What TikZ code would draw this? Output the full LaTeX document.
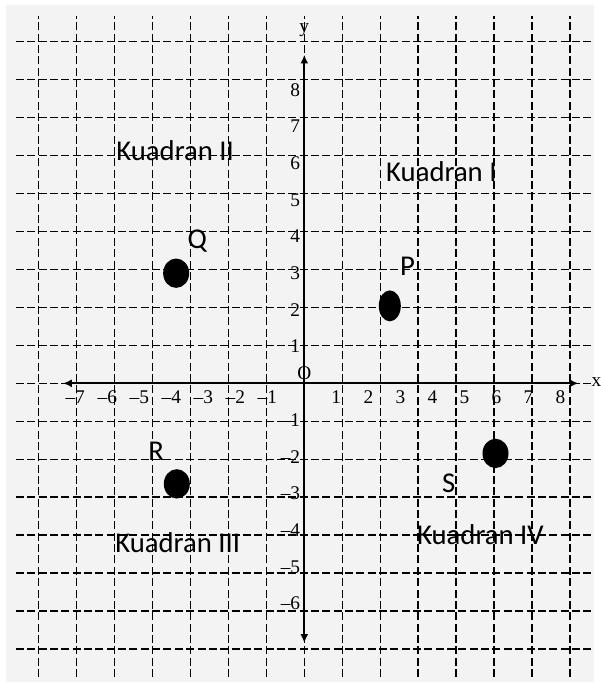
\documentclass[tikz,border=0pt]{standalone}
\usepackage{fontspec}
\setmainfont{Carlito}
\newfontfamily\numfont{Liberation Serif}
\usetikzlibrary{arrows.meta}
\definecolor{paper}{HTML}{F3F3F3}
\tikzset{
  gridline/.style = {dash pattern=on 6pt off 2.5pt, line width=1.1pt},
  sumbu/.style = {line width=1.75pt, {Latex[length=6.5pt,width=6pt]}-{Latex[length=6.5pt,width=6pt]}},
  angka/.style = {font=\numfont\fontsize{14.5}{16}\selectfont, inner sep=0},
  teks/.style = {font=\fontsize{21.5}{24}\selectfont, inner sep=0},
  titik/.style = {fill=black}
}

\begin{document}
\begin{tikzpicture}[x=24pt, y=27.5pt]
    \useasboundingbox (-9.5,-8.193) rectangle (9.25,10.444);
    \fill[paper] (-9.31,-8.14) rectangle (9.06,10.31);
    \draw[gridline] (-9,-8) grid (9,10);
    % axes
    \coordinate (xmin) at (-7.53,0);
    \coordinate (xmax) at (8.56,0);
    \coordinate (ymin) at (0,-7.07);
    \coordinate (ymax) at (0,8.95);
    \draw[sumbu] (xmin) -- (xmax);
    \draw[sumbu] (ymin) -- (ymax);
    \node[angka] (xlbl) at (9.12,0.04) {x};
    \node[angka] (ylbl) at (0,9.63) {y};
    \node[angka] (olbl) at (0,0.28) {O};
    \foreach \i in {-7,...,-1,1,2,...,8} {
        \pgfmathtruncatemacro\a{abs(\i)}
        \node[angka] (x\i) at (\i,-0.37) {\ifnum\i<0 \llap{–}\fi\a};
    }
    \foreach \i in {-6,...,-1,1,2,...,8} {
        \pgfmathtruncatemacro\a{abs(\i)}
        \node[angka] (y\i) at (-0.28,\i) {\ifnum\i<0 \llap{–}\fi\a};
    }
    % quadrants
    \node[teks] (kI) at (4.28,5.76) {Kuadran I};
    \node[teks] (kII) at (-4.03,6.35) {Kuadran II};
    \node[teks] (kIII) at (-3.95,-4.35) {Kuadran III};
    \node[teks] (kIV) at (5.5,-4.13) {Kuadran IV};
    % points
    \coordinate (P) at (2.67,2.11);
    \coordinate (Q) at (-4,3);
    \coordinate (R) at (-3.98,-2.74);
    \coordinate (S) at (5.97,-1.91);
    \fill[titik] (P) ellipse [x radius=8.25pt, y radius=11.6pt];
    \foreach \p in {Q,R,S} {
        \fill[titik] (\p) ellipse [x radius=9.75pt, y radius=11pt]; % black dot
    }
    \node[teks] (lblP) at (3.22,3.18) {P};
    \node[teks] (lblQ) at (-3.34,3.87) {Q};
    \node[teks] (lblR) at (-4.625,-1.84) {R};
    \node[teks] (lblS) at (4.51,-2.73) {S};
\end{tikzpicture}
\end{document}
